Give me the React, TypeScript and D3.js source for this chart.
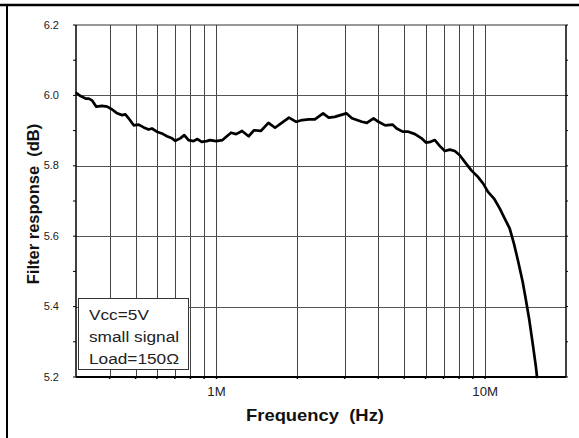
import React from "react";
import * as d3 from "d3";

// frequency in MHz, response in dB
const freqMHz = [
  0.302, 0.312, 0.326, 0.335, 0.345, 0.357, 0.375, 0.392, 0.409, 0.427,
  0.445, 0.458, 0.471, 0.492, 0.513, 0.536, 0.559, 0.575, 0.6, 0.626,
  0.654, 0.683, 0.703, 0.733, 0.759, 0.787, 0.821, 0.849, 0.881, 0.919,
  0.946, 0.996, 1.053, 1.085, 1.133, 1.183, 1.245, 1.317, 1.38, 1.462,
  1.561, 1.652, 1.734, 1.862, 1.981, 2.085, 2.208, 2.323, 2.494, 2.617,
  2.756, 2.893, 3.044, 3.193, 3.333, 3.478, 3.629, 3.842, 4.009, 4.245,
  4.529, 4.686, 4.932, 5.178, 5.483, 5.799, 6.021, 6.262, 6.502, 6.785,
  7.081, 7.389, 7.711, 8.047, 8.398, 8.886, 9.414, 9.824, 10.25, 10.79,
  11.33, 11.83, 12.34, 12.8, 13.25, 13.8, 14.19, 14.61, 15.04, 15.46, 15.6,
];
const responseDb = [
  6.006, 5.998, 5.991, 5.991, 5.985, 5.968, 5.97, 5.968, 5.96, 5.949,
  5.944, 5.946, 5.935, 5.915, 5.917, 5.909, 5.903, 5.906, 5.897, 5.892,
  5.884, 5.878, 5.871, 5.878, 5.887, 5.873, 5.87, 5.876, 5.868, 5.87,
  5.873, 5.87, 5.873, 5.882, 5.894, 5.89, 5.899, 5.884, 5.901, 5.899,
  5.922, 5.908, 5.92, 5.937, 5.925, 5.93, 5.932, 5.932, 5.949, 5.937,
  5.939, 5.944, 5.949, 5.935, 5.93, 5.925, 5.922, 5.935, 5.925, 5.915,
  5.917, 5.906, 5.897, 5.897, 5.89, 5.878, 5.866, 5.868, 5.873, 5.856,
  5.842, 5.846, 5.842, 5.83, 5.811, 5.787, 5.768, 5.75, 5.726, 5.707,
  5.679, 5.65, 5.622, 5.579, 5.531, 5.47, 5.418, 5.361, 5.294, 5.228, 5.2,
];

const xLabels = [
  { f: 1e6, text: "1M" },
  { f: 1e7, text: "10M" },
];
const yMajor = [5.2, 5.4, 5.6, 5.8, 6.0, 6.2];
const yMinor = [5.3, 5.5, 5.7, 5.9, 6.1];
const noteLines = ["Vcc=5V", "small signal", "Load=150Ω"];

const W = 579;
const H = 438;
const font = "'Liberation Sans', Arial, Helvetica, sans-serif";
// the source image is a little wider than tall, text looks stretched
const stretch = 1.15;

export default function App() {
  const left = 76, right = 566, top = 25, bottom = 377;

  const x = d3.scaleLog().domain([0.3e6, 20e6]).range([left, right]);
  const y = d3.scaleLinear().domain([5.2, 6.2]).range([bottom, top]);

  const gridX = x.ticks().filter((t) => t > 0.3e6 * 1.001 && t < 20e6 * 0.999);

  const data = freqMHz.map((f, i) => ({ f: f * 1e6, v: responseDb[i] }));
  const line = d3
    .line<{ f: number; v: number }>()
    .x((d) => x(d.f))
    .y((d) => y(d.v));

  return (
    <svg
      width={W}
      height={H}
      style={{ position: "absolute", left: 0, top: 0, background: "#fff" }}
      fontFamily={font}
    >
      {/* outer frame lines */}
      <line x1={0} x2={W} y1={5} y2={5} stroke="#000" strokeWidth={2.5} />
      <line x1={7} x2={7} y1={4} y2={H} stroke="#000" strokeWidth={2} />

      {/* vertical grid */}
      {gridX.map((t) => (
        <line
          key={"gx" + t}
          x1={Math.round(x(t)) + 0.5}
          x2={Math.round(x(t)) + 0.5}
          y1={top}
          y2={bottom}
          stroke="#444"
          strokeWidth={1}
        />
      ))}
      {/* horizontal grid */}
      {yMajor
        .filter((v) => v > 5.2 && v < 6.2)
        .map((v) => (
          <line
            key={"gy" + v}
            x1={left}
            x2={right}
            y1={Math.round(y(v)) + 0.5}
            y2={Math.round(y(v)) + 0.5}
            stroke="#555"
            strokeWidth={1}
          />
        ))}

      {/* plot frame */}
      <line x1={left} x2={right} y1={top} y2={top} stroke="#333" strokeWidth={1} />
      <line x1={left} x2={left} y1={top} y2={bottom} stroke="#000" strokeWidth={1.5} />
      <line x1={right} x2={right} y1={top} y2={bottom} stroke="#000" strokeWidth={1.5} />
      <line x1={left} x2={right} y1={bottom} y2={bottom} stroke="#000" strokeWidth={2} />

      {/* ticks */}
      {gridX.map((t) => (
        <line
          key={"tx" + t}
          x1={x(t)}
          x2={x(t)}
          y1={bottom}
          y2={bottom + 2}
          stroke="#000"
          strokeWidth={1.5}
        />
      ))}
      {[...yMajor, ...yMinor].map((v) => (
        <g key={"ty" + v}>
          <line x1={left - 3} x2={left} y1={y(v)} y2={y(v)} stroke="#000" strokeWidth={1} />
          <line x1={right} x2={right + 2} y1={y(v)} y2={y(v)} stroke="#000" strokeWidth={1} />
        </g>
      ))}

      {/* y tick labels */}
      {yMajor.map((v) => (
        <text
          key={"ly" + v}
          transform={`translate(59,${y(v) + 3.5}) scale(1.05,1)`}
          textAnchor="end"
          fontSize={10.5}
          fill="#222"
        >
          {v.toFixed(1)}
        </text>
      ))}
      {/* x tick labels */}
      {xLabels.map((l) => (
        <text
          key={l.text}
          transform={`translate(${x(l.f)},396) scale(1.1,1)`}
          textAnchor="middle"
          fontSize={12}
          fill="#222"
        >
          {l.text}
        </text>
      ))}

      {/* curve */}
      <path
        d={line(data) || ""}
        fill="none"
        stroke="#000"
        strokeWidth={2.7}
        strokeLinejoin="round"
        strokeLinecap="round"
      />

      {/* note box */}
      <rect x={78.5} y={298.5} width={110} height={71} fill="#fff" stroke="#333" strokeWidth={1} />
      {noteLines.map((s, i) => (
        <text
          key={s}
          transform={`translate(89,${320 + i * 22}) scale(${stretch},1)`}
          fontSize={15}
          fill="#222"
        >
          {s}
        </text>
      ))}

      {/* axis titles */}
      <text
        transform={`translate(315,421) scale(${stretch},1)`}
        textAnchor="middle"
        fontSize={16}
        fontWeight="bold"
        fill="#111"
      >
        Frequency{"\u00a0\u00a0"}(Hz)
      </text>
      <text
        transform={`translate(39,204) rotate(-90)`}
        textAnchor="middle"
        fontSize={16.5}
        fontWeight="bold"
        fill="#111"
      >
        Filter response{"\u00a0\u00a0"}(dB)
      </text>
    </svg>
  );
}
